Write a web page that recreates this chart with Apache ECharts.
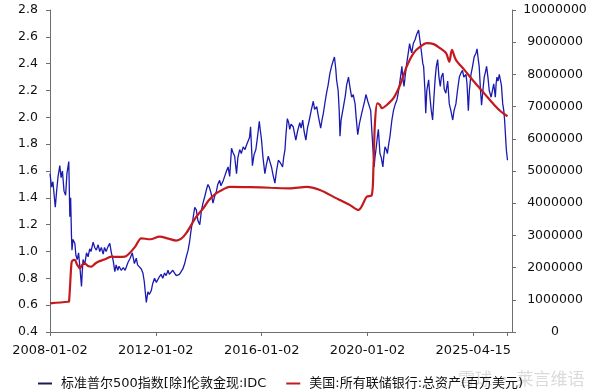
<!DOCTYPE html>
<html><head><meta charset="utf-8">
<script src="https://cdn.jsdelivr.net/npm/echarts@6/dist/echarts.min.js"></script>
<style>html,body{margin:0;padding:0;background:#fff}#c{width:601px;height:390px}</style>
</head><body><div id="c"></div>
<script>
// X tick positions (year) and their labels as printed in the source chart
const tickYears = [2008, 2012, 2016, 2020, 2024];
const tickLabels = ['2008-01-02', '2012-01-02', '2016-01-02', '2020-01-02', '2025-04-15'];
const lastYear = 2025.29; // 2025-04-15

const seriesNames = ['标准普尔500指数[除]伦敦金现:IDC', '美国:所有联储银行:总资产(百万美元)'];

// S&P500 / Gold ratio (left axis), dates as decimal years
const blueYears = [
  2008.00,2008.06,2008.11,2008.20,2008.25,2008.30,2008.37,2008.42,2008.47,2008.53,2008.59,2008.64,2008.71,2008.75,2008.78,2008.81,2008.83,2008.87,2008.94,2008.98,
  2009.03,2009.08,2009.14,2009.19,2009.22,2009.25,2009.31,2009.38,2009.44,2009.50,2009.55,2009.63,2009.69,2009.75,2009.82,2009.88,2009.94,
  2010.01,2010.06,2010.12,2010.20,2010.26,2010.32,2010.39,2010.45,2010.50,2010.56,2010.61,2010.69,2010.77,2010.84,2010.88,2010.95,
  2011.03,2011.11,2011.19,2011.26,2011.31,2011.38,2011.45,2011.51,2011.56,2011.60,2011.64,2011.67,2011.70,2011.75,2011.83,2011.88,2011.95,
  2012.02,2012.08,2012.13,2012.20,2012.26,2012.33,2012.39,2012.46,2012.51,2012.58,2012.64,2012.71,2012.77,2012.84,2012.89,2012.96,
  2013.02,2013.09,2013.15,2013.22,2013.28,2013.34,2013.40,2013.47,2013.53,2013.59,2013.66,2013.72,2013.78,2013.85,2013.91,2013.97,
  2014.02,2014.08,2014.16,2014.22,2014.29,2014.34,2014.41,2014.46,2014.52,2014.55,2014.60,2014.67,2014.73,2014.79,2014.86,2014.91,2014.98,
  2015.01,2015.05,2015.10,2015.17,2015.23,2015.30,2015.37,2015.42,2015.49,2015.54,2015.58,2015.61,2015.65,2015.71,2015.78,2015.84,2015.91,2015.95,2015.99,
  2016.05,2016.12,2016.18,2016.25,2016.31,2016.37,2016.43,2016.50,2016.56,2016.63,2016.71,2016.79,2016.83,2016.88,2016.92,2016.97,
  2017.02,2017.06,2017.11,2017.19,2017.24,2017.29,2017.36,2017.44,2017.49,2017.55,2017.60,2017.67,2017.73,2017.80,2017.87,2017.95,
  2018.00,2018.08,2018.15,2018.23,2018.28,2018.33,2018.40,2018.45,2018.51,2018.58,2018.64,2018.70,2018.75,2018.80,2018.83,2018.89,2018.93,2018.96,
  2019.00,2019.09,2019.16,2019.21,2019.28,2019.34,2019.40,2019.46,2019.53,2019.57,2019.63,2019.69,2019.78,2019.84,2019.89,2019.94,
  2020.01,2020.07,2020.12,2020.16,2020.20,2020.25,2020.28,2020.32,2020.37,2020.41,2020.47,2020.52,2020.58,2020.61,2020.66,2020.71,2020.75,2020.80,2020.85,2020.92,2020.98,
  2021.05,2021.11,2021.16,2021.21,2021.26,2021.30,2021.33,2021.38,2021.43,2021.48,2021.54,2021.59,2021.64,2021.67,2021.73,2021.80,2021.86,2021.93,2021.99,
  2022.03,2022.09,2022.12,2022.17,2022.20,2022.24,2022.31,2022.34,2022.37,2022.41,2022.46,2022.51,2022.56,2022.60,2022.65,2022.70,2022.75,2022.79,2022.85,2022.90,2022.96,
  2023.03,2023.09,2023.15,2023.22,2023.27,2023.34,2023.40,2023.47,2023.53,2023.59,2023.64,2023.72,2023.76,2023.81,2023.85,2023.91,2023.97,
  2024.03,2024.10,2024.14,2024.18,2024.22,2024.27,2024.31,2024.36,2024.41,2024.46,2024.50,2024.55,2024.60,2024.67,2024.74,2024.77,2024.83,2024.86,2024.89,2024.93,2024.98,
  2025.02,2025.06,2025.11,2025.15,2025.18,2025.21,2025.23,2025.25,2025.29
];
const blueValues = [
  1.58,1.48,1.52,1.33,1.45,1.55,1.64,1.55,1.60,1.45,1.42,1.58,1.67,1.26,1.40,1.13,1.01,1.09,1.06,0.97,
  0.94,0.99,0.86,0.74,0.85,0.94,0.90,0.99,0.96,1.02,1.00,1.07,1.03,1.01,1.05,1.00,1.03,
  0.98,1.03,1.00,1.04,1.06,0.99,0.93,0.85,0.90,0.86,0.89,0.86,0.88,0.86,0.86,0.92,
  0.95,0.99,0.91,0.95,0.90,0.89,0.87,0.84,0.78,0.70,0.62,0.66,0.70,0.68,0.71,0.76,0.80,
  0.77,0.77,0.81,0.83,0.80,0.84,0.82,0.86,0.83,0.83,0.86,0.85,0.82,0.81,0.83,0.84,
  0.87,0.91,0.96,1.01,1.08,1.17,1.24,1.33,1.31,1.23,1.20,1.30,1.36,1.41,1.46,1.50,
  1.48,1.44,1.36,1.41,1.45,1.50,1.53,1.49,1.48,1.53,1.56,1.60,1.63,1.56,1.77,1.74,1.71,
  1.65,1.58,1.70,1.76,1.73,1.78,1.76,1.79,1.79,1.85,1.93,1.80,1.64,1.72,1.76,1.85,1.97,1.90,1.84,
  1.70,1.58,1.65,1.71,1.67,1.63,1.57,1.51,1.60,1.68,1.66,1.63,1.70,1.76,1.88,1.99,
  1.96,1.91,1.95,1.93,1.88,1.83,1.90,1.96,1.92,1.98,1.90,1.83,1.92,1.98,2.05,2.12,
  2.06,2.08,2.00,1.92,1.98,2.03,2.12,2.18,2.24,2.33,2.38,2.42,2.45,2.36,2.28,2.20,2.05,1.86,
  1.98,2.08,2.16,2.24,2.30,2.22,2.15,2.17,2.10,2.00,1.87,1.95,2.03,2.08,2.12,2.17,
  2.12,2.12,2.05,1.91,1.78,1.63,1.70,1.76,1.85,1.91,1.73,1.70,1.63,1.70,1.78,1.76,1.73,1.80,1.86,1.98,2.05,
  2.10,2.13,2.18,2.25,2.32,2.38,2.30,2.23,2.32,2.40,2.48,2.55,2.50,2.48,2.55,2.58,2.62,2.65,2.66,
  2.50,2.40,2.38,2.20,2.03,2.20,2.28,2.20,2.13,2.05,1.98,2.15,2.30,2.38,2.43,2.30,2.23,2.30,2.33,2.21,2.18,
  2.27,2.10,2.05,1.98,2.05,2.10,2.20,2.30,2.33,2.35,2.30,2.32,2.25,2.05,2.20,2.32,2.38,
  2.45,2.48,2.51,2.44,2.38,2.20,2.09,2.20,2.30,2.34,2.38,2.30,2.20,2.15,2.22,2.25,2.15,2.25,2.30,2.27,2.32,
  2.28,2.24,2.10,2.05,1.98,1.88,1.81,1.75,1.68
];

// Fed total assets, millions USD (right axis)
const redYears = [
  2008.00,2008.68,2008.72,2008.81,2008.85,2008.94,2009.02,2009.13,2009.21,2009.31,2009.44,2009.56,2009.70,2009.82,
  2010.05,2010.32,2010.58,2010.83,2011.02,2011.22,2011.45,2011.79,2012.14,2012.47,2012.77,2012.96,
  2013.15,2013.53,2013.80,2014.01,2014.29,2014.52,2014.79,2015.58,2016.33,2017.06,2017.70,2018.20,2018.83,
  2019.34,2019.66,2019.74,2019.84,2019.97,2020.16,2020.22,2020.28,2020.37,2020.47,2020.54,2020.73,2020.98,
  2021.23,2021.48,2021.74,2021.99,2022.24,2022.50,2022.75,2022.97,2023.09,2023.19,2023.34,2023.66,
  2024.03,2024.41,2024.79,2025.05,2025.29
];
const redValues = [
  890000,940000,950000,2130000,2220000,2240000,2100000,1980000,2080000,2130000,2050000,2030000,2120000,2180000,
  2250000,2340000,2330000,2340000,2460000,2650000,2910000,2880000,2960000,2900000,2840000,2900000,
  3070000,3580000,3850000,4100000,4310000,4420000,4510000,4500000,4480000,4460000,4510000,4410000,4150000,
  3940000,3790000,3850000,4000000,4200000,4250000,5030000,6480000,7100000,7050000,6950000,7050000,7260000,
  7670000,8240000,8660000,8860000,8970000,8940000,8810000,8660000,8390000,8760000,8450000,8140000,
  7770000,7410000,7050000,6840000,6700000
];

const FONT = '"DejaVu Sans", "Noto Sans CJK SC", sans-serif';
const axisColor = '#6e6e6e';
const blueColor = '#1a1ab0';
const redColor = '#c41a1e';
const chart = echarts.init(document.getElementById('c'));
chart.setOption({
  animation: false,
  backgroundColor: '#ffffff',
  grid: { left: 50, right: 89, top: 10, bottom: 58 },
  legend: {
    left: 33, top: 372, itemGap: 20, itemWidth: 14, itemHeight: 2, icon: 'rect',
    textStyle: { fontFamily: FONT, fontSize: 13, color: '#111', padding: [0, 0, 0, 4] },
    data: [
      { name: seriesNames[0], itemStyle: { color: '#1a1a5a' } },
      { name: seriesNames[1], itemStyle: { color: redColor } }
    ]
  },
  xAxis: {
    type: 'value', min: 2008, max: 2025.46,
    axisLine: { lineStyle: { color: axisColor } },
    axisTick: { show: true, length: 4, customValues: tickYears.concat([lastYear]), lineStyle: { color: axisColor } },
    axisLabel: {
      customValues: tickYears, margin: 12, fontFamily: FONT, fontSize: 13, color: '#111',
      formatter: v => { const i = tickYears.indexOf(v); return i >= 0 ? tickLabels[i] : ''; }
    },
    splitLine: { show: false }
  },
  yAxis: [
    {
      type: 'value', min: 0.4, max: 2.8, interval: 0.2,
      axisLine: { show: true, lineStyle: { color: axisColor } },
      axisTick: { show: true, length: 4, lineStyle: { color: axisColor } },
      axisLabel: { margin: 12, fontFamily: FONT, fontSize: 12.5, color: '#111', formatter: v => v.toFixed(1) },
      splitLine: { show: false }
    },
    {
      type: 'value', min: 0, max: 10000000, interval: 1000000, position: 'right',
      axisLine: { show: true, lineStyle: { color: axisColor } },
      axisTick: { show: true, length: 4, lineStyle: { color: axisColor } },
      axisLabel: { margin: 43, align: 'center', fontFamily: FONT, fontSize: 12.5, color: '#111',
        formatter: v => String(Math.round(v)) },
      splitLine: { show: false }
    }
  ],
  series: [
    {
      name: seriesNames[0], type: 'line', yAxisIndex: 0, symbol: 'none',
      lineStyle: { color: blueColor, width: 1.3 }, itemStyle: { color: '#1a1a5a' },
      data: blueYears.map((t, i) => [t, blueValues[i]])
    },
    {
      name: seriesNames[1], type: 'line', yAxisIndex: 1, symbol: 'none', smooth: 0.3,
      lineStyle: { color: redColor, width: 2.2 }, itemStyle: { color: redColor },
      data: redYears.map((t, i) => [t, redValues[i]])
    }
  ],
  graphic: [
    { type: 'text', left: 458, top: 370, silent: true,
      style: { text: '雪球 · 莱言维语', fontFamily: '"Noto Sans CJK SC", sans-serif', fontSize: 17, fill: 'rgba(150,150,150,0.35)' } }
  ]
});
</script>
</body></html>
